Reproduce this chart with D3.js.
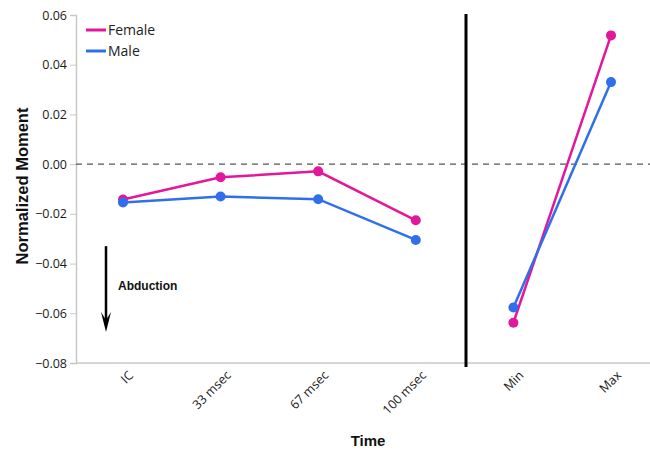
<!DOCTYPE html>
<html>
<head>
<meta charset="utf-8">
<script src="https://cdn.jsdelivr.net/npm/d3@7"></script>
<style>
  body { margin: 0; background: #fff; }
  svg { display: block; font-family: 'Open Sans', sans-serif; }
</style>
</head>
<body>
<div class="chart"></div>
<script>
// values
var categories = ['IC', '33 msec', '67 msec', '100 msec', 'Min', 'Max'];
var female = [-0.0142, -0.0053, -0.0029, -0.0226, -0.0638, 0.0518];
var male = [-0.0154, -0.0130, -0.0141, -0.0305, -0.0577, 0.0330];
var yTicks = [0.06, 0.04, 0.02, 0.00, -0.02, -0.04, -0.06, -0.08];

var width = 650,
    height = 451;

var svg = d3.select('.chart')
  .append('svg')
  .attr('width', width)
  .attr('height', height);

var y = d3.scaleLinear()
  .domain([-0.08, 0.06])
  .range([363, 15]);

var x = d3.scalePoint()
  .domain(categories)
  .range([123, 611]);

var axisX0 = 76;

// y axis
var yAxis = d3.axisLeft(y)
  .tickValues(yTicks)
  .tickSize(6)
  .tickPadding(3)
  .tickFormat(d3.format('.2f'));

var gy = svg.append('g')
  .attr('transform', 'translate(' + axisX0 + ',0)')
  .call(yAxis);
gy.select('.domain').attr('stroke', '#c8c8c8').attr('stroke-width', 1.5);
gy.selectAll('.tick line').attr('stroke', '#c8c8c8');
gy.selectAll('.tick text')
  .attr('fill', '#1a1a1a')
  .style('font-size', '12.5px')
  .style('font-family', "'Open Sans', sans-serif");

// x axis line
svg.append('line')
  .attr('x1', axisX0).attr('x2', width)
  .attr('y1', y(-0.08)).attr('y2', y(-0.08))
  .attr('stroke', '#c8c8c8')
  .attr('stroke-width', 1.5);

// x tick labels, rotated
svg.append('g')
  .selectAll('text')
  .data(categories)
  .enter()
  .append('text')
  .attr('transform', function(d) {
    return 'translate(' + (x(d) + 8) + ',' + (y(-0.08) + 10) + ') rotate(-45)';
  })
  .attr('text-anchor', 'end')
  .attr('dy', '0.35em')
  .attr('fill', '#1a1a1a')
  .style('font-size', '12.5px')
  .text(function(d) { return d; });

// zero line
svg.append('line')
  .attr('x1', axisX0).attr('x2', width)
  .attr('y1', y(0)).attr('y2', y(0))
  .attr('stroke', '#555')
  .attr('stroke-width', 1.2)
  .attr('stroke-dasharray', '6,5');

// separator between time points and min/max
svg.append('line')
  .attr('x1', 466).attr('x2', 466)
  .attr('y1', y(0.06) - 1).attr('y2', y(-0.08) + 4)
  .attr('stroke', '#000')
  .attr('stroke-width', 3);

var series = [
  { name: 'Female', values: female, color: '#e2179b' },
  { name: 'Male', values: male, color: '#2f70ea' }
];

var line = d3.line()
  .x(function(d) { return x(d.cat); })
  .y(function(d) { return y(d.v); });

series.forEach(function(s) {
  var pts = s.values.map(function(v, i) { return { cat: categories[i], v: v }; });
  // two separate segments: time points, then min/max
  [pts.slice(0, 4), pts.slice(4)].forEach(function(seg) {
    svg.append('path')
      .attr('d', line(seg))
      .attr('fill', 'none')
      .attr('stroke', s.color)
      .attr('stroke-width', 2.5);
  });
});

series.forEach(function(s) {
  svg.append('g')
    .selectAll('circle')
    .data(s.values)
    .enter()
    .append('circle')
    .attr('cx', function(d, i) { return x(categories[i]); })
    .attr('cy', function(d) { return y(d); })
    .attr('r', 5)
    .attr('fill', s.color);
});

// legend
var legend = svg.append('g').attr('transform', 'translate(86,30)');
series.forEach(function(s, i) {
  legend.append('line')
    .attr('x1', 0).attr('x2', 20)
    .attr('y1', i * 21).attr('y2', i * 21)
    .attr('stroke', s.color)
    .attr('stroke-width', 3);
  legend.append('text')
    .attr('x', 22)
    .attr('y', i * 21)
    .attr('dy', '0.35em')
    .attr('fill', '#222')
    .style('font-size', '14px')
    .text(s.name);
});

// abduction arrow
var ax = 106,
    aTop = y(-0.0330),
    aTip = y(-0.0675);
svg.append('line')
  .attr('x1', ax).attr('x2', ax)
  .attr('y1', aTop).attr('y2', aTip - 10)
  .attr('stroke', '#000')
  .attr('stroke-width', 2.5);
svg.append('path')
  .attr('d', 'M' + (ax - 5) + ',' + (aTip - 20) +
    ' L' + ax + ',' + (aTip - 12) +
    ' L' + (ax + 5) + ',' + (aTip - 20) +
    ' L' + ax + ',' + aTip + ' Z')
  .attr('fill', '#000');

svg.append('text')
  .attr('x', 118)
  .attr('y', 290)
  .style('font-family', "'Liberation Sans', Arial, sans-serif")
  .style('font-size', '12px')
  .style('font-weight', 'bold')
  .attr('fill', '#111')
  .text('Abduction');

// axis titles
svg.append('text')
  .attr('transform', 'translate(28,186) rotate(-90)')
  .attr('text-anchor', 'middle')
  .style('font-family', "'Liberation Sans', Arial, sans-serif")
  .style('font-size', '16.5px')
  .style('font-weight', 'bold')
  .attr('fill', '#111')
  .text('Normalized Moment');

svg.append('text')
  .attr('x', 368)
  .attr('y', 446)
  .attr('text-anchor', 'middle')
  .style('font-family', "'Liberation Sans', Arial, sans-serif")
  .style('font-size', '15px')
  .style('font-weight', 'bold')
  .attr('fill', '#111')
  .text('Time');
</script>
</body>
</html>
